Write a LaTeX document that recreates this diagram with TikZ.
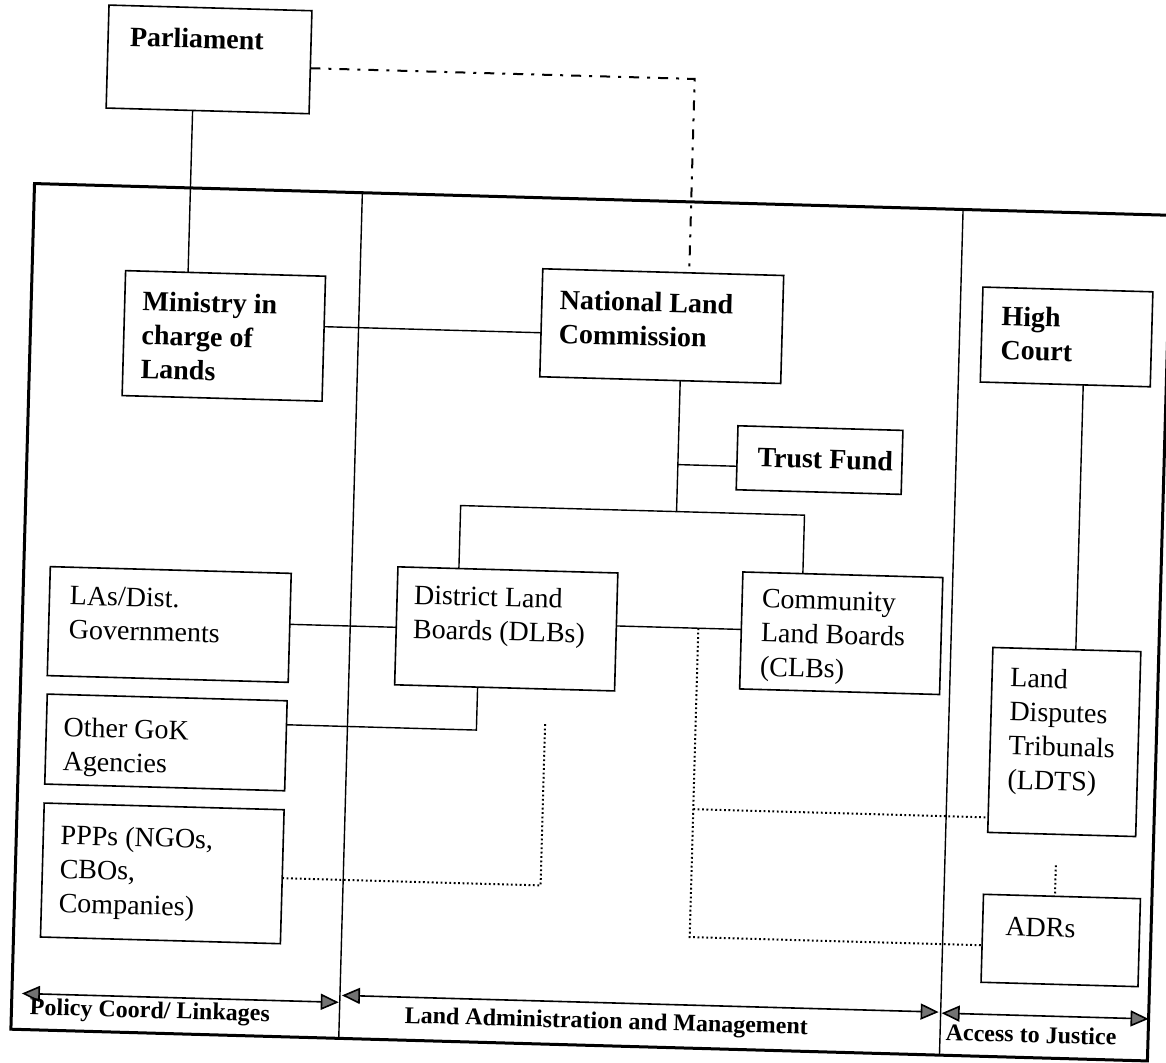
\documentclass[tikz,border=0pt]{standalone}
\usepackage{fontspec}
\setmainfont{Liberation Serif}
\usetikzlibrary{arrows.meta}
\begin{document}
\begin{tikzpicture}[x=0.5pt,y=-0.5pt,
  box/.style={draw, line width=0.8pt, inner sep=0pt},
  txt/.style={anchor=north west, inner sep=0pt, align=left, font=\fontsize{14}{17}\selectfont},
  btxt/.style={txt, font=\fontsize{14}{17}\selectfont\bfseries},
  conn/.style={line width=0.7pt},
  dotc/.style={line width=1pt, dash pattern=on 0.9pt off 1.3pt},
  dashdot/.style={line width=1pt, dash pattern=on 5pt off 4pt on 1.5pt off 4pt},
  framestyle/.style={line width=1.5pt},
  divider/.style={line width=0.7pt},
  tri/.style={Triangle[length=9pt,width=8pt,fill=black!55]},
  spanarrow/.style={line width=0.8pt, {Triangle[length=9pt,width=8pt,fill=black!55]}-{Triangle[length=9pt,width=8pt,fill=black!55]}},
  lab/.style={inner sep=0pt, font=\fontsize{12}{14}\selectfont\bfseries}
]
\path[use as bounding box, fill=white] (0,0) rectangle (1166,1063);
\begin{scope}[rotate around={-1.6:(583,531)}, transform shape]
% frame and column dividers
\draw[framestyle] (25,199) rectangle (1162,1045);
\coordinate (d1t) at (353,199); \coordinate (d1b) at (353,1045);
\coordinate (d2t) at (954,199); \coordinate (d2b) at (954,1045);
\draw[divider] (d1t) -- (d1b);
\draw[divider] (d2t) -- (d2b);

% boxes
\node[box, minimum width=101.5pt, minimum height=51.5pt] (parl) at (196,70) {};
\node[box, minimum width=100pt, minimum height=62.5pt] (min) at (218.5,346) {};
\node[box, minimum width=120.5pt, minimum height=54pt] (nlc) at (656,324) {};
\node[box, minimum width=85pt, minimum height=47.5pt] (hc) at (1061,323.5) {};
\node[box, minimum width=82.5pt, minimum height=32pt] (tf) at (817.5,453.5) {};
\node[box, minimum width=110pt, minimum height=59pt] (dlb) at (509,631) {};
\node[box, minimum width=100pt, minimum height=58.5pt] (clb) at (844,626) {};
\node[box, minimum width=120.5pt, minimum height=54.5pt] (las) at (172,636) {};
\node[box, minimum width=120pt, minimum height=45pt] (gok) at (172,754) {};
\node[box, minimum width=120pt, minimum height=67pt] (ppp) at (172,885) {};
\node[box, minimum width=74pt, minimum height=92.5pt] (ldt) at (1070,728.5) {};
\node[box, minimum width=78.5pt, minimum height=44pt] (adr) at (1072,927) {};

% texts
\node[btxt] (parlT) at (116,39) {Parliament};
\node[btxt] (minT) at (136,303) {Ministry in\\charge of\\Lands};
\node[btxt] (nlcT) at (553,290) {National Land\\Commission};
\node[btxt] (hcT) at (995,294) {High\\Court};
\node[btxt] (tfT) at (755,442) {Trust Fund};
\node[txt] (dlbT) at (415.5,589) {District Land\\Boards (DLBs)};
\node[txt] (clbT) at (763.5,584) {Community\\Land Boards\\(CLBs)};
\node[txt] (lasT) at (71.5,600) {LAs/Dist.\\Governments};
\node[txt] (gokT) at (69,731) {Other GoK\\Agencies};
\node[txt] (pppT) at (69,839) {PPPs (NGOs,\\CBOs,\\Companies)};
\node[txt] (ldtT) at (1014,655) {Land\\Disputes\\Tribunals\\(LDTS)};
\node[txt] (adrT) at (1016,905) {ADRs};

% connector waypoints
\coordinate (pm1) at (181,121.5); \coordinate (pm2) at (181,283.5);
\coordinate (pd1) at (297.5,76); \coordinate (pd2) at (682,76); \coordinate (pd3) at (682,270);
\coordinate (mn1) at (318.5,334); \coordinate (mn2) at (535.5,334);
\coordinate (ns1) at (676,378); \coordinate (ns2) at (676,509);
\coordinate (tfj) at (676,462); \coordinate (tfl) at (735,462);
\coordinate (cb1) at (460,509); \coordinate (cb2) at (804,509);
\coordinate (dlbt) at (460,572); \coordinate (clbt) at (804,567.5);
\coordinate (ld1) at (292.5,632.5); \coordinate (ld2) at (399,632.5);
\coordinate (dc1) at (619,625); \coordinate (dc2) at (744,625);
\coordinate (g1) at (292,733); \coordinate (g2) at (482,733); \coordinate (g3) at (482,690);
\coordinate (p1) at (292,886.5); \coordinate (p2) at (550.5,886.5); \coordinate (p3) at (550.5,724);
\coordinate (v1) at (701,625); \coordinate (v2) at (701,934); \coordinate (v3) at (993.5,934);
\coordinate (w1) at (701,806); \coordinate (w2) at (996,806);
\coordinate (h1) at (1079,371); \coordinate (h2) at (1079,636);
\coordinate (la1) at (1065,852); \coordinate (la2) at (1065,883);

% connectors
\draw[conn] (pm1) -- (pm2);
\draw[dashdot] (pd1) -- (pd2) -- (pd3);
\draw[conn] (mn1) -- (mn2);
\draw[conn] (ns1) -- (ns2);
\draw[conn] (tfj) -- (tfl);
\draw[conn] (dlbt) -- (cb1) -- (cb2) -- (clbt);
\draw[conn] (ld1) -- (ld2);
\draw[conn] (dc1) -- (dc2);
\draw[conn] (g1) -- (g2) -- (g3);
\draw[dotc] (p1) -- (p2) -- (p3);
\draw[dotc] (v1) -- (v2) -- (v3);
\draw[dotc] (w1) -- (w2);
\draw[conn] (h1) -- (h2);
\draw[dotc] (la1) -- (la2);

% bottom spans
\coordinate (a1) at (35,1009); \coordinate (a2) at (352,1009);
\coordinate (b1) at (355,1002); \coordinate (b2) at (952,1002);
\coordinate (c1) at (955,1003); \coordinate (c2) at (1162,1003);
\draw[spanarrow] (a1) -- (a2);
\draw[spanarrow] (b1) -- (b2);
\draw[spanarrow] (c1) -- (c2);
\node[lab, anchor=base west] (labA) at (43,1030) {Policy Coord/ Linkages};
\node[lab, anchor=base] (labB) at (620,1028) {Land Administration and Management};
\node[lab, anchor=base] (labC) at (1045,1030) {Access to Justice};
\end{scope}
\end{tikzpicture}
\end{document}
